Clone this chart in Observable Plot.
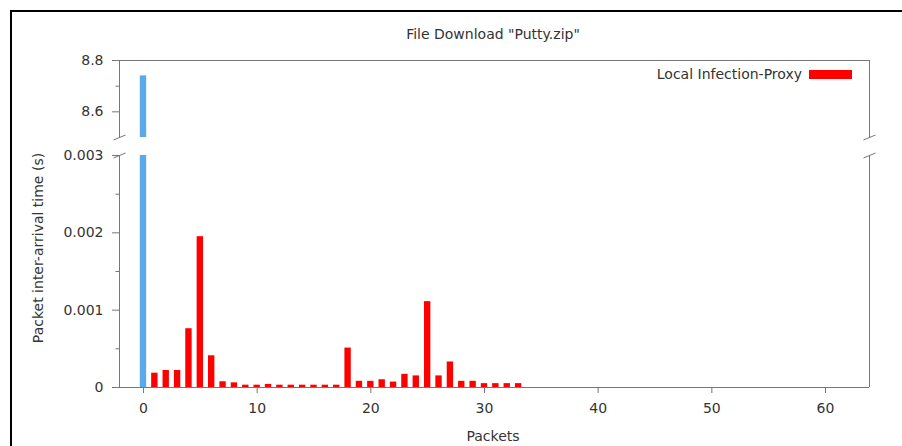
<!DOCTYPE html>
<html>
<head>
<meta charset="utf-8">
<script src="https://cdn.jsdelivr.net/npm/d3@7"></script>
<script src="https://cdn.jsdelivr.net/npm/@observablehq/plot@0.6"></script>
<style>
  html, body { margin: 0; padding: 0; background: #fff; }
  #wrap { position: relative; width: 902px; height: 446px; overflow: hidden; background: #fff; font-family: "DejaVu Sans", sans-serif; }
  #frame { position: absolute; left: 10px; top: 10px; width: 1000px; height: 1000px; border-left: 2px solid #000; border-top: 2px solid #000; box-sizing: border-box; }
  .lbl { position: absolute; transform: translate(-50%, -50%); white-space: nowrap; font-size: 14px; color: #333; }
  .panel { position: absolute; left: 0; top: 0; }
  .panel svg text { fill: #333; }
  #legend { position: absolute; right: 50px; top: 66px; font-size: 14px; color: #333; display: flex; align-items: center; white-space: nowrap; }
  #legend span.sw { display: inline-block; width: 43px; height: 9px; background: #ff0000; margin-left: 7px; }
</style>
</head>
<body>
<div id="wrap">
  <div id="frame"></div>
  <div id="upper" class="panel"></div>
  <div id="lower" class="panel"></div>
  <div class="lbl" style="left:493px; top:34px;">File Download "Putty.zip"</div>
  <div class="lbl" style="left:493px; top:436px;">Packets</div>
  <div class="lbl" style="left:38px; top:248px; transform: translate(-50%,-50%) rotate(-90deg);">Packet inter-arrival time (s)</div>
  <div id="legend"><span>Local Infection-Proxy</span><span class="sw"></span></div>
</div>
<script>
// ---- data ----
const packets = [0,1,2,3,4,5,6,7,8,9,10,11,12,13,14,15,16,17,18,19,20,21,22,23,24,25,26,27,28,29,30,31,32,33];
const interArrival = [8.74, 0.000185, 0.00022, 0.00022, 0.00076, 0.00195, 0.00041, 0.000074, 0.00006, 0.00003,
  0.00003, 0.00004, 0.00003, 0.00003, 0.00003, 0.00003, 0.00003, 0.00003, 0.00051, 0.00008,
  0.00008, 0.0001, 0.00007, 0.00017, 0.00015, 0.00111, 0.00015, 0.00033, 0.00008, 0.00008,
  0.00005, 0.00005, 0.00005, 0.00005];
const seriesName = "Local Infection-Proxy";
const xTicks = [0, 10, 20, 30, 40, 50, 60];
const upperTicks = [8.6, 8.8];
const upperMinor = [8.7];
const lowerTicks = [0, 0.001, 0.002, 0.003];
const lowerMinor = [0.0005, 0.0015, 0.0025];
const xDomain = [-2.11, 63.87];
const upperDomain = [8.5, 8.8];
const lowerDomain = [0, 0.003];

const data = packets.map((p, i) => ({p, v: interArrival[i], first: i === 0}));
const hw = 0.28;
const lineColor = "#777";
const style = {fontFamily: "DejaVu Sans", fontSize: "14px", color: lineColor, background: "transparent", overflow: "visible"};

function bars(extra) {
  return Plot.rectY(data.filter(extra), {
    x1: d => d.p - hw, x2: d => d.p + hw, y1: 0, y2: "v",
    fill: d => d.first ? "#5aaaea" : "#ff0000", clip: true
  });
}

const W = 902, H = 446;
const mLeft = 119, mRight = W - 869;

// upper panel
const upper = Plot.plot({
  width: W, height: 140,
  marginLeft: mLeft, marginRight: mRight, marginTop: 60, marginBottom: 3,
  style,
  x: {domain: xDomain, axis: null},
  y: {domain: upperDomain},
  marks: [
    bars(d => d.v > upperDomain[0]),
    Plot.ruleY([upperDomain[1]], {stroke: lineColor}),
    Plot.ruleX([xDomain[0], xDomain[1]], {stroke: lineColor, y1: upperDomain[0], y2: upperDomain[1]}),
    Plot.axisY(upperTicks, {tickSize: 7, tickPadding: 9, tickFormat: d3.format(".1f"), label: null}),
    Plot.axisY(upperMinor, {tickSize: 3.5, tickFormat: () => "", label: null}),
    Plot.link([xDomain[0], xDomain[1]], {
      x1: d => d - 0.53, x2: d => d + 0.53,
      y1: upperDomain[0] - 0.0097, y2: upperDomain[0] + 0.0097,
      stroke: lineColor
    })
  ]
});
document.getElementById("upper").appendChild(upper);

// lower panel
const lower = Plot.plot({
  width: W, height: H,
  marginLeft: mLeft, marginRight: mRight, marginTop: 155, marginBottom: H - 387,
  style,
  x: {domain: xDomain},
  y: {domain: lowerDomain},
  marks: [
    bars(() => true),
    Plot.ruleY([lowerDomain[0]], {stroke: lineColor}),
    Plot.ruleX([xDomain[0], xDomain[1]], {stroke: lineColor, y1: lowerDomain[0], y2: lowerDomain[1]}),
    Plot.axisY(lowerTicks, {tickSize: 7, tickPadding: 9, tickFormat: d => d === 0 ? "0" : d3.format(".3f")(d), label: null}),
    Plot.axisY(lowerMinor, {tickSize: 3.5, tickFormat: () => "", label: null}),
    Plot.axisX(xTicks, {tickSize: 6, tickPadding: 10, label: null}),
    Plot.link([xDomain[0], xDomain[1]], {
      x1: d => d - 0.53, x2: d => d + 0.53,
      y1: lowerDomain[1] - 0.000032, y2: lowerDomain[1] + 0.000032,
      stroke: lineColor
    })
  ]
});
document.getElementById("lower").appendChild(lower);
</script>
</body>
</html>
